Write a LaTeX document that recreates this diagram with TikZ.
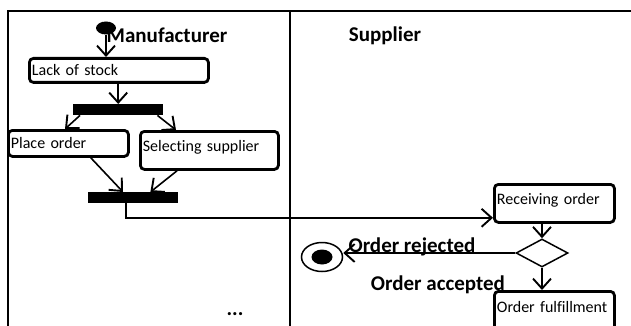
\documentclass[tikz,border=0pt]{standalone}
\usepackage{fontspec}
\setmainfont{Carlito}[Ligatures=NoCommon]
\usepackage{tikz}
\usetikzlibrary{positioning,%
  arrows.meta,%
  shapes.geometric,%
  calc
}

\begin{document}
\begin{tikzpicture}[x=1pt,y=-1pt,
    act/.style={draw, line width=2.8pt, rounded corners=4pt, anchor=north west, inner xsep=2.5pt, inner ysep=0pt, align=left, font=\fontsize{16}{19}\selectfont},
    bar/.style={fill=black, draw=none, inner sep=0pt, anchor=north west},
    lbl/.style={font=\fontsize{21}{24}\selectfont\bfseries, inner sep=0pt},
    arr/.style={line width=1.6pt, -{Straight Barb[length=10pt,width=18pt,line width=1.9pt]}}]
            \useasboundingbox (0,0) rectangle (631,326);
            \clip (0,0) rectangle (631,326);
            \draw [line width=1.4pt] (8,326) -- (8,11) -- (631,11);
            \draw [line width=1.4pt] (290,11) -- (290,326);

            \node [lbl] (manuf) at (167,35) {Manufacturer};
            \node [lbl] (suppl) at (385,36) {Supplier};
            \node [ellipse, fill=black, minimum width=20pt, minimum height=13pt, inner sep=0pt] (start) at (106,28) {};

            \node [act, minimum height=24pt, text width=174pt] (lack) at (28,57) {Lack of stock};
            \node [bar, minimum width=90pt, minimum height=11pt] (fork) at (73,104) {};
            \node [act, minimum height=26pt, text width=115pt] (place) at (7,129) {Place order};
            \node [act, minimum height=38pt, text width=133pt, text depth=9pt] (select) at (139,130) {Selecting supplier};
            \node [bar, minimum width=90pt, minimum height=11pt] (join) at (88,192) {};

            \node [act, minimum height=38pt, text width=115pt, text depth=9pt] (recv) at (493,183) {Receiving order};
            \node [diamond, draw, line width=1.5pt, minimum width=52pt, minimum height=28pt, inner sep=0pt] (decide) at (542,253) {};
            \node [ellipse, draw, line width=1.5pt, minimum width=41pt, minimum height=29pt, inner sep=0pt] (final) at (322,257) {};
            \node [ellipse, fill=black, minimum width=21pt, minimum height=15pt, inner sep=0pt] at (final) {};
            \node [act, minimum height=46pt, text width=115pt, text depth=14pt] (fulfil) at (493,290) {Order fulfillment};

            \node [lbl] (rejected) at (412,247) {Order rejected};
            \node [lbl] (accepted) at (438,285) {Order accepted};
            \node [lbl] (more) at (235,314) {...};

            \draw [arr] (start.south) -- (start |- lack.north);
            \draw [arr] (lack.south -| fork.north) -- (fork.north);
            \draw [arr] ([xshift=7pt]fork.south west) -- ([xshift=58pt]place.north west);
            \draw [arr] ([xshift=-6pt]fork.south east) -- ([xshift=37pt]select.north west);
            \draw [arr] ([xshift=-39pt]place.south east) -- ([xshift=35pt]join.north west);
            \draw [arr] ([xshift=38pt]select.south west) -- ([xshift=-28pt]join.north east);
            \draw [arr] ([xshift=38pt]join.south west) |- ([yshift=6pt]recv.south west);
            \draw [arr] (recv.south -| decide.north) -- (decide.north);
            \draw [arr] (decide.west) -- (decide.west -| final.east);
            \draw [arr] (decide.south) -- (decide.south |- fulfil.north);
        \end{tikzpicture}
\end{document}
